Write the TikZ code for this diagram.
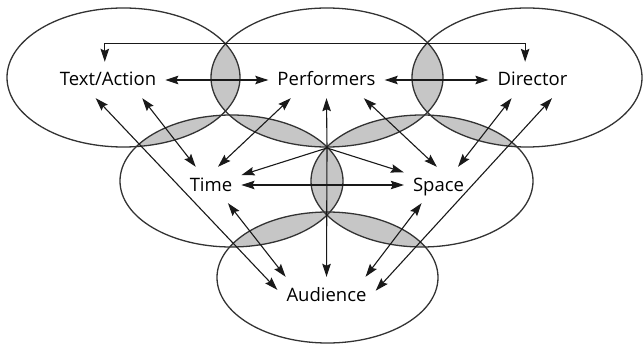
\documentclass[tikz,border=0pt]{standalone}
\usepackage{fontspec}
\setmainfont{Open Sans}
\usetikzlibrary{arrows.meta}

% the six overlapping fields
\def\eText {(123.5,77.5) ellipse [x radius=116.5, y radius=69.5]}
\def\ePerf {(327,77.5) ellipse [x radius=116, y radius=69.5]}
\def\eDir  {(527,77.5) ellipse [x radius=115, y radius=69.5]}
\def\eTime {(231.5,181) ellipse [x radius=111.5, y radius=66]}
\def\eSpace{(422,181) ellipse [x radius=111, y radius=66]}
\def\eAud  {(327.5,277.5) ellipse [x radius=110.5, y radius=65.5]}

\begin{document}
\begin{tikzpicture}[
  x=1pt, y=-1pt,
  font=\fontsize{18.5}{21}\selectfont, >={Stealth[length=13pt, width=8.5pt, inset=2pt]},
  ell/.style  = {draw=black!80, line width=1.3pt},
  lens/.style = {fill=gray!45},
  lbl/.style  = {inner xsep=9pt, inner ysep=11pt,
                 text height=13pt, text depth=1pt},
  link/.style = {line width=1.1pt, black!90}
]
\useasboundingbox (0,0) rectangle (643,345);

% shaded overlaps
\foreach \a/\b in {\eText/\ePerf, \ePerf/\eDir, \eText/\eTime, \ePerf/\eTime,
                   \ePerf/\eSpace, \eDir/\eSpace, \eTime/\eSpace,
                   \eTime/\eAud, \eSpace/\eAud}{
  \begin{scope}
    \clip \a;
    \fill[lens] \b;
  \end{scope}
}
\foreach \e in {\eText, \ePerf, \eDir, \eTime, \eSpace, \eAud}
  \draw[ell] \e;

\node[lbl] (text)  at (108,80)    {Text/Action};
\node[lbl] (perf)  at (326.5,80)  {Performers};
\node[lbl] (dir)   at (532.5,80)  {Director};
\node[lbl] (time)  at (211,185)   {Time};
\node[lbl] (space) at (438.5,185) {Space};
\node[lbl] (aud)   at (326.5,295) {Audience};
\coordinate (hub) at (327,148);

\draw[link, <->] (text) -- (perf);
\draw[link, <->] (perf) -- (dir);
\draw[link, <->] (text.100) -- ++(0,-18) -| (dir.112);
\draw[link, <->] (text.-28) -- (time.130);
\draw[link, <->] (text.-124) -- (aud.174);
\draw[link, <->] (perf.207) -- (time.69);
\draw[link, <->] (perf.-26) -- (space.95);
\draw[link, <->] (dir.221) -- (space.43);
\draw[link, <->] (dir.-43) -- (aud.5);
\draw[link, <->] (time) -- (space);
\draw[link, <->] (time.-47) -- (aud.156);
\draw[link, <->] (space.227) -- (aud.25);

\draw[link, ->] (hub) -- (perf.south);
\draw[link, ->] (hub) -- (time.18);
\draw[link, ->] (hub) -- (space.160);
\draw[link, ->] (hub) -- (aud.north);

\end{tikzpicture}
\end{document}
